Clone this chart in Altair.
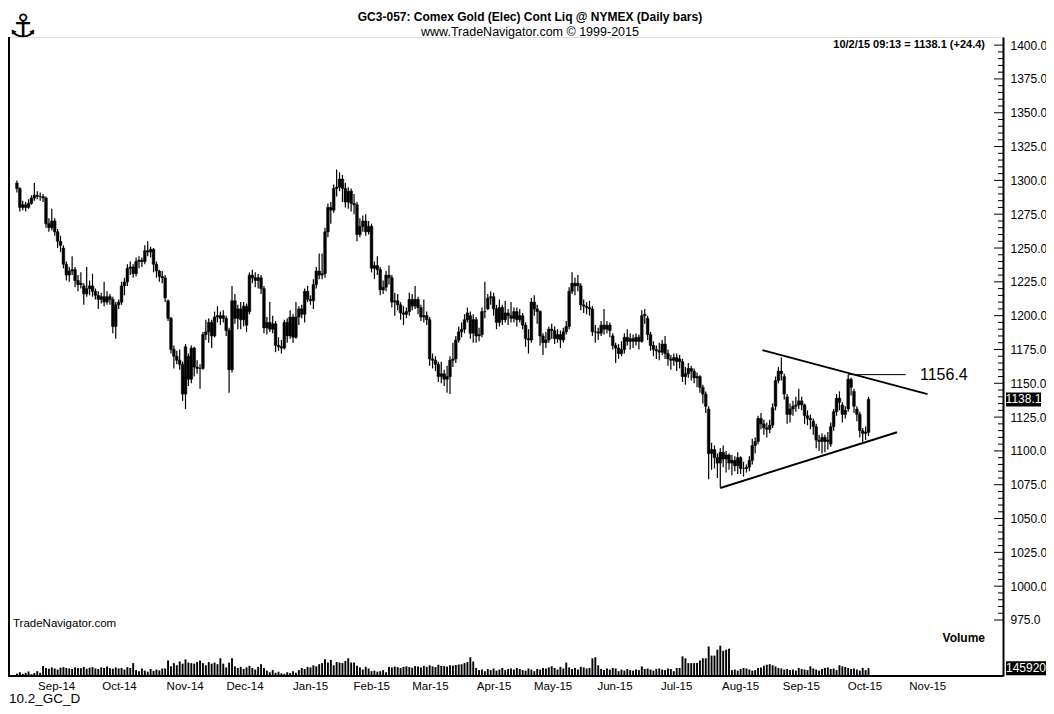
import altair as alt
import pandas as pd

FONT = "Liberation Sans"

# ---- daily bars (index = trading day) ----
O = [1298,1294,1280,1282,1280,1283,1287,1289,1288,1288,
     1287,1268,1265,1270,1262,1255,1250,1238,1230,1233,
     1234,1226,1223,1222,1216,1220,1222,1218,1215,1212,
     1214,1210,1214,1212,1192,1208,1210,1222,1225,1235,
     1236,1231,1240,1241,1240,1248,1247,1249,1238,1233,
     1229,1228,1211,1198,1175,1170,1167,1164,1142,1170,
     1153,1176,1162,1161,1161,1186,1188,1195,1185,1199,
     1200,1198,1198,1189,1160,1211,1198,1205,1197,1207,
     1203,1230,1228,1226,1228,1220,1191,1195,1190,1194,
     1178,1177,1176,1195,1185,1199,1184,1199,1205,1201,
     1218,1212,1211,1223,1233,1230,1231,1262,1280,1278,
     1294,1295,1301,1294,1284,1292,1283,1282,1260,1266,
     1270,1262,1266,1235,1237,1234,1219,1221,1230,1228,
     1210,1211,1208,1202,1201,1203,1212,1207,1212,1206,
     1199,1200,1197,1168,1167,1164,1155,1157,1153,1155,
     1167,1168,1182,1188,1190,1197,1200,1187,1197,1185,
     1186,1203,1205,1213,1214,1205,1195,1206,1197,1202,
     1200,1198,1203,1197,1200,1193,1183,1182,1210,1205,
     1203,1185,1180,1182,1190,1189,1183,1186,1182,1188,
     1192,1218,1224,1222,1222,1208,1207,1206,1205,1188,
     1188,1187,1193,1190,1193,1185,1178,1176,1172,1175,
     1184,1181,1183,1181,1184,1181,1200,1198,1186,1178,
     1175,1174,1173,1179,1172,1168,1167,1169,1166,1166,
     1155,1157,1161,1159,1154,1155,1147,1142,1131,1098,
     1101,1095,1091,1099,1094,1097,1091,1093,1089,1095,
     1087,1087,1088,1093,1104,1107,1124,1120,1117,1116,
     1119,1133,1152,1159,1155,1140,1127,1131,1133,1134,
     1137,1134,1126,1124,1122,1118,1108,1107,1110,1107,
     1105,1118,1129,1139,1134,1127,1131,1153,1144,1131,
     1127,1115,1113,1113.7]
H = [1300,1295,1285,1284,1286,1289,1298,1292,1291,1290,
     1288,1272,1279,1272,1264,1259,1252,1240,1236,1244,
     1236,1230,1232,1224,1236,1226,1231,1220,1218,1217,
     1225,1218,1216,1214,1210,1212,1225,1228,1238,1240,
     1238,1243,1244,1243,1252,1255,1251,1250,1240,1234,
     1233,1230,1212,1199,1178,1174,1175,1166,1179,1172,
     1178,1177,1167,1164,1188,1197,1198,1197,1203,1207,
     1203,1204,1200,1191,1222,1216,1208,1210,1210,1209,
     1232,1234,1232,1231,1230,1222,1199,1210,1200,1196,
     1184,1182,1197,1198,1204,1201,1210,1207,1208,1220,
     1222,1215,1227,1236,1246,1246,1265,1283,1284,1297,
     1308,1306,1304,1298,1295,1294,1290,1284,1272,1274,
     1275,1270,1268,1240,1244,1236,1226,1233,1237,1230,
     1217,1216,1210,1207,1206,1217,1216,1222,1214,1208,
     1212,1203,1199,1172,1170,1166,1166,1160,1163,1170,
     1180,1185,1192,1195,1201,1206,1203,1201,1199,1191,
     1206,1225,1216,1218,1217,1208,1212,1208,1211,1205,
     1210,1206,1206,1205,1202,1195,1190,1213,1215,1208,
     1204,1187,1188,1192,1194,1192,1190,1189,1191,1196,
     1221,1232,1228,1230,1224,1212,1210,1211,1207,1193,
     1191,1196,1205,1196,1195,1187,1180,1179,1181,1187,
     1190,1187,1186,1187,1186,1204,1205,1200,1188,1181,
     1178,1180,1182,1185,1175,1171,1172,1172,1171,1168,
     1162,1165,1163,1161,1158,1156,1149,1144,1133,1106,
     1104,1098,1102,1104,1100,1098,1097,1096,1099,1096,
     1092,1090,1096,1109,1110,1126,1128,1123,1121,1123,
     1135,1155,1162,1169,1157,1142,1135,1137,1140,1146,
     1140,1135,1130,1127,1124,1120,1112,1113,1112,1114,
     1121,1131,1142,1144,1136,1133,1156.4,1154,1146,1133,
     1129,1117,1118,1140]
L = [1291,1277,1278,1277,1279,1282,1285,1286,1285,1284,
     1265,1262,1263,1259,1250,1247,1235,1226,1225,1230,
     1221,1218,1220,1208,1214,1215,1214,1212,1205,1209,
     1207,1208,1208,1187,1183,1205,1208,1215,1222,1230,
     1228,1229,1235,1236,1238,1244,1243,1232,1228,1225,
     1224,1210,1196,1172,1161,1164,1160,1137,1131,1148,
     1150,1155,1157,1146,1160,1182,1180,1176,1184,1195,
     1193,1195,1185,1143,1158,1194,1190,1190,1192,1188,
     1201,1224,1221,1220,1216,1187,1186,1188,1187,1173,
     1174,1172,1175,1180,1183,1180,1183,1193,1198,1195,
     1210,1208,1205,1220,1227,1227,1228,1258,1268,1276,
     1288,1292,1284,1280,1279,1277,1275,1255,1258,1262,
     1259,1260,1232,1227,1230,1215,1216,1218,1223,1206,
     1200,1204,1197,1193,1198,1200,1204,1205,1201,1196,
     1195,1193,1163,1161,1159,1151,1150,1148,1143,1142,
     1162,1165,1180,1184,1187,1195,1183,1180,1180,1181,
     1184,1198,1204,1208,1200,1190,1192,1193,1195,1193,
     1195,1195,1192,1195,1190,1177,1172,1180,1200,1194,
     1178,1171,1176,1180,1183,1179,1180,1176,1180,1186,
     1190,1216,1215,1218,1204,1202,1201,1200,1185,1180,
     1182,1185,1186,1187,1184,1175,1165,1168,1170,1172,
     1178,1175,1176,1178,1175,1180,1194,1182,1174,1170,
     1168,1167,1171,1168,1163,1160,1163,1159,1161,1151,
     1149,1154,1152,1150,1147,1143,1135,1128,1079,1086,
     1087,1080,1073,1088,1084,1086,1082,1085,1083,1083,
     1081,1084,1085,1090,1098,1105,1116,1112,1110,1113,
     1117,1130,1150,1152,1138,1120,1121,1126,1129,1131,
     1130,1120,1119,1116,1112,1102,1100,1098,1099,1101,
     1103,1115,1126,1130,1121,1124,1129,1141,1128,1122,
     1110,1106,1108,1111]
C = [1294,1280,1282,1280,1283,1287,1289,1288,1288,1287,
     1268,1265,1270,1262,1255,1252,1238,1230,1233,1234,
     1226,1223,1224,1216,1220,1222,1218,1215,1212,1214,
     1210,1214,1212,1192,1208,1210,1222,1225,1235,1236,
     1231,1240,1241,1240,1248,1247,1249,1238,1233,1229,
     1228,1213,1198,1175,1170,1167,1164,1142,1177,1153,
     1176,1162,1161,1161,1186,1188,1195,1185,1199,1200,
     1198,1200,1189,1160,1211,1198,1205,1197,1207,1193,
     1230,1228,1226,1228,1220,1191,1195,1190,1194,1178,
     1177,1176,1195,1185,1199,1184,1199,1205,1201,1218,
     1212,1211,1223,1233,1230,1231,1262,1280,1278,1294,
     1295,1301,1294,1284,1292,1283,1282,1260,1266,1270,
     1262,1266,1235,1237,1234,1219,1221,1230,1228,1210,
     1211,1208,1202,1201,1203,1212,1207,1212,1206,1199,
     1200,1197,1168,1167,1164,1155,1157,1153,1155,1167,
     1168,1182,1188,1190,1197,1202,1187,1197,1185,1186,
     1203,1203,1213,1214,1205,1195,1206,1197,1202,1200,
     1198,1203,1197,1200,1193,1183,1182,1210,1205,1203,
     1185,1180,1182,1190,1189,1183,1186,1182,1188,1192,
     1218,1224,1222,1224,1208,1207,1206,1205,1188,1188,
     1187,1193,1190,1193,1189,1178,1176,1172,1175,1184,
     1181,1183,1181,1184,1181,1200,1201,1186,1178,1175,
     1174,1173,1179,1172,1168,1167,1169,1166,1168,1155,
     1157,1161,1159,1154,1155,1147,1142,1133,1098,1101,
     1095,1091,1099,1094,1097,1091,1093,1089,1095,1087,
     1087,1088,1093,1104,1107,1124,1120,1117,1116,1119,
     1132,1152,1159,1157,1142,1127,1131,1133,1134,1137,
     1134,1126,1124,1123,1118,1108,1107,1110,1107,1108,
     1118,1129,1139,1136,1127,1130,1153,1147,1133,1127,
     1115,1113,1114,1138.1]
# volume, thousands of contracts
V = [45,70,40,60,85,35,55,90,60,185,
     150,135,160,140,120,155,165,150,140,130,
     160,150,145,170,135,155,165,140,130,160,
     150,175,145,135,160,140,150,120,165,150,
     240,110,90,140,100,80,130,95,120,105,
     140,140,290,180,240,200,270,230,310,250,
     240,230,260,290,240,200,260,230,250,220,
     330,230,160,250,330,180,150,170,130,160,
     190,150,120,170,220,150,100,70,110,60,
     80,50,40,70,55,90,60,110,150,130,
     170,160,200,180,220,240,310,250,300,200,
     260,250,240,280,330,250,250,190,160,120,
     170,140,90,100,80,90,110,70,170,160,
     175,165,150,170,180,165,155,185,175,160,
     190,170,200,180,165,210,190,185,175,200,
     195,205,215,220,240,260,350,270,150,110,
     120,90,130,110,140,100,120,150,110,130,
     140,120,150,130,110,100,140,120,90,130,
     120,150,140,160,180,150,120,170,140,250,
     160,130,150,120,170,160,140,150,330,350,
     200,130,110,140,120,150,140,90,120,100,
     130,110,100,120,110,180,130,140,120,100,
     130,140,120,110,140,130,90,150,150,365,
     330,240,240,240,240,290,330,330,550,380,
     380,490,565,470,490,510,110,120,100,130,
     150,140,120,100,110,150,160,190,210,220,
     200,180,150,140,120,130,110,120,100,150,
     130,120,110,180,140,120,100,130,150,160,
     130,140,110,200,180,170,150,130,140,120,
     100,150,110,145.92]

MONTHS = ["Sep-14", "Oct-14", "Nov-14", "Dec-14", "Jan-15", "Feb-15", "Mar-15",
          "Apr-15", "May-15", "Jun-15", "Jul-15", "Aug-15", "Sep-15", "Oct-15", "Nov-15"]
MONTH_POS = [13.5, 35.1, 57.7, 78.3, 100.9, 121.9, 142.1, 164.0, 184.3, 205.6,
             226.8, 248.8, 269.7, 291.6, 313.2]

PRICE_LABELS = list(range(975, 1401, 25))
PRICE_MINOR = list(range(975, 1401, 5))

UPPER_I = [256.5, 313.3]
UPPER_P = [1174.5, 1142.0]
LOWER_I = [242.0, 302.8]
LOWER_P = [1072.6, 1113.8]
MARK_I = [286, 305.8]
MARK_P = 1156.4
LAST_PRICE = 1138.1
LAST_VOL = 145920

TITLE = "GC3-057:  Comex Gold (Elec) Cont Liq @ NYMEX  (Daily bars)"
SUBTITLE = "www.TradeNavigator.com \u00a9 1999-2015"
QUOTE = "10/2/15 09:13 = 1138.1 (+24.4)"

N = len(C)
assert all(len(a) == N for a in (O, H, L, V)), [len(a) for a in (O, H, L, C, V)]

bars = pd.DataFrame({"i": list(range(N)), "o": O, "h": H, "l": L, "c": C,
                     "v": [v * 1000 for v in V]})

PW, PH = 995, 639
xs = alt.Scale(domain=[-1.35, 337.55], nice=False, zero=False)
ys = alt.Scale(domain=[933.6, 1406.0], nice=False, zero=False)
vs = alt.Scale(domain=[0, 600000], range=[PH, PH - 32.2], nice=False)

label_expr = ("[" + ",".join("'%s'" % m for m in MONTHS) + "][indexof(["
              + ",".join(str(p) for p in MONTH_POS) + "], datum.value)]")
xaxis = alt.Axis(values=MONTH_POS, labelExpr=label_expr, ticks=False, tickSize=0,
                 domain=False, grid=False, labelFont=FONT, labelFontSize=11.5,
                 labelColor="#000", labelPadding=4, labelFlush=False,
                 labelOverlap=False, title=None)
yaxis = alt.Axis(orient="right", values=PRICE_LABELS, format=".1f", ticks=False,
                 domain=True, domainColor="#000", domainWidth=2, grid=False,
                 labelFont=FONT, labelFontSize=12, labelColor="#000",
                 labelPadding=7, title=None, labelOverlap=False)


def X(field="i"):
    return alt.X(field + ":Q", scale=xs, axis=xaxis)


def Y(field):
    return alt.Y(field + ":Q", scale=ys, axis=yaxis)


wick = alt.Chart(bars).mark_rule(color="black", strokeWidth=1.2).encode(
    x=X(), y=Y("l"), y2="h:Q")
body = alt.Chart(bars).mark_bar(color="black", size=2.7, stroke="black",
                                strokeWidth=0.5).encode(x=X(), y=Y("o"), y2="c:Q")

upper = alt.Chart(pd.DataFrame({"i": UPPER_I, "p": UPPER_P})).mark_line(
    color="black", strokeWidth=2).encode(x=X(), y=Y("p"))
lower = alt.Chart(pd.DataFrame({"i": LOWER_I, "p": LOWER_P})).mark_line(
    color="black", strokeWidth=2).encode(x=X(), y=Y("p"))
hmark = alt.Chart(pd.DataFrame({"i": MARK_I, "p": [MARK_P, MARK_P]})).mark_line(
    color="black", strokeWidth=1).encode(x=X(), y=Y("p"))
hlabel = alt.Chart(pd.DataFrame({"p": [MARK_P], "t": ["%.1f" % MARK_P]})).mark_text(
    align="left", baseline="middle", font=FONT, fontSize=16, color="black").encode(
    x=alt.value(912), y=Y("p"), text="t:N")

tick_df = pd.DataFrame({"p": PRICE_MINOR, "major": [p in PRICE_LABELS for p in PRICE_MINOR]})
ticks_major = alt.Chart(tick_df).transform_filter("datum.major").mark_rule(
    color="black", strokeWidth=1).encode(x=alt.value(PW - 9), x2=alt.value(PW), y=Y("p"))
ticks_minor = alt.Chart(tick_df).transform_filter("!datum.major").mark_rule(
    color="black", strokeWidth=1).encode(x=alt.value(PW - 5), x2=alt.value(PW), y=Y("p"))

RECT = "M-1,-0.4L1,-0.4L1,0.4L-1,0.4Z"
last_df = pd.DataFrame({"p": [LAST_PRICE], "t": ["%.1f" % LAST_PRICE]})
last_box = alt.Chart(last_df).mark_point(shape=RECT, size=1225, filled=True,
                                         color="black", opacity=1).encode(
    x=alt.value(1015.5), y=Y("p"))
last_txt = alt.Chart(last_df).mark_text(font=FONT, fontSize=12, color="white",
                                        baseline="middle", align="center").encode(
    x=alt.value(1015.5), y=Y("p"), text="t:N")

price = alt.layer(ticks_minor, ticks_major, wick, body, upper, lower, hmark, hlabel,
                  last_box, last_txt)

vol_bars = alt.Chart(bars).mark_bar(color="black", size=1.9).encode(
    x=X(), y=alt.Y("v:Q", scale=vs, axis=None))
vol_df = pd.DataFrame({"v": [LAST_VOL], "t": [str(LAST_VOL)]})
vol_box = alt.Chart(vol_df).mark_point(shape="M-1,-0.35L1,-0.35L1,0.35L-1,0.35Z",
                                       size=1600, filled=True, color="black",
                                       opacity=1).encode(
    x=alt.value(1018), y=alt.Y("v:Q", scale=vs, axis=None))
vol_txt = alt.Chart(vol_df).mark_text(font=FONT, fontSize=12, color="white",
                                      baseline="middle", align="center").encode(
    x=alt.value(1018), y=alt.Y("v:Q", scale=vs, axis=None), text="t:N")
volume = alt.layer(vol_bars, vol_box, vol_txt)


def txt(s, x, y, size, weight="normal", align="left", font=FONT):
    return alt.Chart(pd.DataFrame({"t": [s]})).mark_text(
        align=align, baseline="middle", fontSize=size, fontWeight=weight,
        font=font, color="black").encode(x=alt.value(x), y=alt.value(y), text="t:N")


one = pd.DataFrame({"a": [0]})
left_line = alt.Chart(one).mark_rule(color="black", strokeWidth=2).encode(
    x=alt.value(1), y=alt.value(0), y2=alt.value(PH))
bottom_line = alt.Chart(one).mark_rule(color="black", strokeWidth=2).encode(
    x=alt.value(0), x2=alt.value(PW), y=alt.value(PH))

texts = alt.layer(
    left_line, bottom_line,
    txt("\u2693", 15, -10, 32, font="DejaVu Sans", align="center"),
    txt(TITLE, 522, -20, 12, weight="bold", align="center"),
    txt(SUBTITLE, 522, -5.5, 12.5, align="center"),
    txt(QUOTE, 977, 8, 11, weight="bold", align="right"),
    txt("TradeNavigator.com", 5, 587, 11.5),
    txt("Volume", 977, 601, 12, weight="bold", align="right"),
    txt("10.2_GC_D", 1, 662, 13.5),
)

chart = alt.layer(price, volume, texts).resolve_scale(y="independent").properties(
    width=PW, height=PH,
    padding={"left": 0, "right": 43, "top": 29, "bottom": 30},
    autosize=alt.AutoSizeParams(type="none"),
).configure_view(stroke=None).configure(background="white")

chart.save("out.html", embed_options={"renderer": "svg", "actions": False})
